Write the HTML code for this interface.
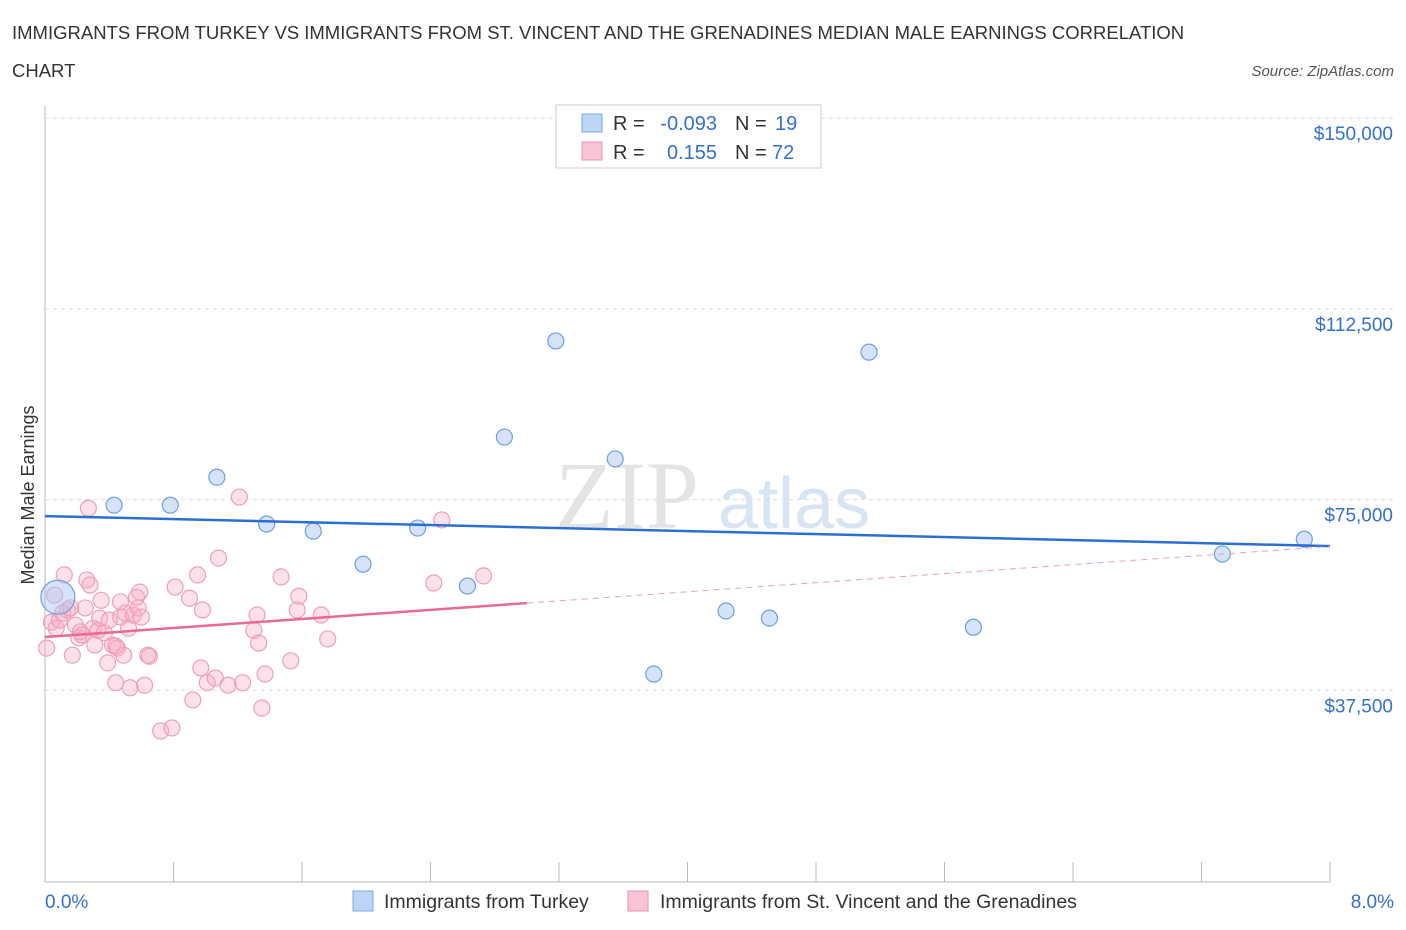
<!DOCTYPE html>
<html><head><meta charset="utf-8"><style>
body{margin:0;background:#fff;font-family:"Liberation Sans",sans-serif;}
svg{display:block}
</style></head><body>
<svg id="chart" width="1406" height="930" xmlns="http://www.w3.org/2000/svg">
<text x="12" y="39" font-size="18.5" fill="#333">IMMIGRANTS FROM TURKEY VS IMMIGRANTS FROM ST. VINCENT AND THE GRENADINES MEDIAN MALE EARNINGS CORRELATION</text>
<text x="12" y="77" font-size="18.5" fill="#333">CHART</text>
<text x="1394" y="76" font-size="15" fill="#555" text-anchor="end" font-style="italic">Source: ZipAtlas.com</text>
<text x="555" y="528" font-size="96" fill="#e4e4e4" font-family="Liberation Serif,serif">ZIP</text>
<text x="718" y="528" font-size="72" fill="#d7e4f3">atlas</text>
<text transform="translate(34,495) rotate(-90)" font-size="18" fill="#333" text-anchor="middle">Median Male Earnings</text>
<g id="grid"></g><g id="marks"></g>
<g font-size="20">
<rect x="556" y="105" width="265" height="63" fill="#fff" stroke="#ccc"/>
<rect x="582" y="114" width="20" height="18" fill="#bcd4f6" stroke="#7aa7e6"/>
<rect x="582" y="142" width="20" height="18" fill="#f9c4d4" stroke="#ef90ad"/>
<text x="613" y="130" fill="#333">R =</text>
<text x="717" y="130" fill="#3370d0" text-anchor="end">-0.093</text>
<text x="735" y="130" fill="#333">N =</text>
<text x="775" y="130" fill="#3370d0">19</text>
<text x="613" y="159" fill="#333">R =</text>
<text x="717" y="159" fill="#3370d0" text-anchor="end">0.155</text>
<text x="735" y="159" fill="#333">N =</text>
<text x="772" y="159" fill="#3370d0">72</text>
</g>
<g>
<rect x="353" y="891" width="20" height="20" fill="#bcd4f6" stroke="#7aa7e6"/>
<text x="384" y="908" font-size="19.5" fill="#333">Immigrants from Turkey</text>
<rect x="628" y="891" width="20" height="20" fill="#f9c4d4" stroke="#ef90ad"/>
<text x="660" y="908" font-size="19.5" fill="#333">Immigrants from St. Vincent and the Grenadines</text>
</g>
</svg>
<script>
const yTicks=[37500,75000,112500,150000];
const yTickLabels=["$37,500","$75,000","$112,500","$150,000"];
const xTickLabels=["0.0%","8.0%"];
const turkeyX=[0.08,0.43,0.78,1.07,1.38,1.67,1.98,2.32,2.63,2.86,3.18,3.55,4.24,4.51,5.13,5.78,3.79,7.33,7.84];
const turkeyY=[55800,73900,73900,79400,70200,68800,62300,69400,58000,87300,106200,83000,53100,51700,104000,49900,40700,64300,67200];
const svX=[0.01,0.04,0.07,0.11,0.12,0.14,0.17,0.19,0.21,0.23,0.26,0.27,0.28,0.30,0.31,0.33,0.34,0.35,0.37,0.39,0.42,0.44,0.45,0.47,0.49,0.50,0.52,0.53,0.55,0.57,0.58,0.59,0.60,0.62,0.64,0.65,0.72,0.79,0.81,0.90,0.92,0.95,0.97,0.98,1.01,1.06,1.08,1.14,1.21,1.23,1.30,1.32,1.33,1.35,1.37,1.47,1.53,1.57,1.58,1.72,1.76,2.47,2.42,2.73,0.06,0.09,0.16,0.22,0.25,0.40,0.44,0.47];
const svY=[45800,50900,49700,52700,60200,53300,44400,50300,47800,48400,59200,73300,58200,49700,46400,49300,51700,55200,48800,42900,46400,39000,45800,51900,44400,52700,49700,38000,52300,55800,53700,56800,51900,38500,44400,44200,29500,30100,57800,55600,35600,60200,41900,53300,39000,39900,63500,38500,75500,39000,49300,52300,46800,34000,40700,59800,43300,53300,56000,52300,47600,71000,58600,60000,56200,51300,53700,49000,53700,51300,46200,54900];
const turkeyTrend=[71760,65860];
const svTrend=[47970,2227];
const NS="http://www.w3.org/2000/svg";
const X=v=>45+v/8*1285, Y=v=>881-v/37500*190.7;
function mk(t,a,p){const e=document.createElementNS(NS,t);for(const k in a)e.setAttribute(k,a[k]);p.appendChild(e);return e;}
const g=document.getElementById('grid'), m=document.getElementById('marks');
yTicks.forEach((v,i)=>{
 const l=mk('line',{x1:45,x2:1394,y1:Y(v),y2:Y(v),stroke:'#ddd','stroke-dasharray':'4,4'},g);
 
 
 const t=mk('text',{x:1393,y:Y(v)+22,'font-size':19,fill:'#3370d0','text-anchor':'end'},g);
 t.textContent=yTickLabels[i];
 
 
});
const ax=mk('line',{x1:45,x2:1330,y1:882,y2:882,stroke:'#bbb'},g);


const ay=mk('line',{x1:45,x2:45,y1:105,y2:882,stroke:'#bbb'},g);


for(let i=0;i<=10;i++){const x=X(i*0.8);const tk=mk('line',{x1:x,x2:x,y1:862,y2:882,stroke:'#bbb'},g);
 
 }
[[0,'start',45],[1,'end',1394]].forEach(([i,a,x])=>{const t=mk('text',{x:x,y:908,'font-size':19,fill:'#3370d0','text-anchor':a},g);t.textContent=xTickLabels[i];
 
 });
svX.forEach((x,i)=>{const c=mk('circle',{cx:X(x),cy:Y(svY[i]),r:8,fill:'rgba(246,170,195,0.35)',stroke:'#eea0b8','stroke-width':1.2},m);
 
 });
turkeyX.forEach((x,i)=>{const c=mk('circle',{cx:X(x),cy:Y(turkeyY[i]),r:i==0?17:8,fill:'rgba(170,200,240,0.5)',stroke:'#6f9fe0','stroke-width':1.2},m);
 
 });
const tl=mk('line',{x1:X(0),y1:Y(turkeyTrend[0]),x2:X(8),y2:Y(turkeyTrend[1]),stroke:'#2a6fd6','stroke-width':2.5},m);


const sv=x=>svTrend[0]+svTrend[1]*x;
const sl=mk('line',{x1:X(0),y1:Y(sv(0)),x2:X(3),y2:Y(sv(3)),stroke:'#e86a95','stroke-width':2.5},m);


const sd=mk('line',{x1:X(3),y1:Y(sv(3)),x2:X(8),y2:Y(sv(8)),stroke:'#e8a0b8','stroke-width':1,'stroke-dasharray':'6,5'},m);


</script>
</body></html>
